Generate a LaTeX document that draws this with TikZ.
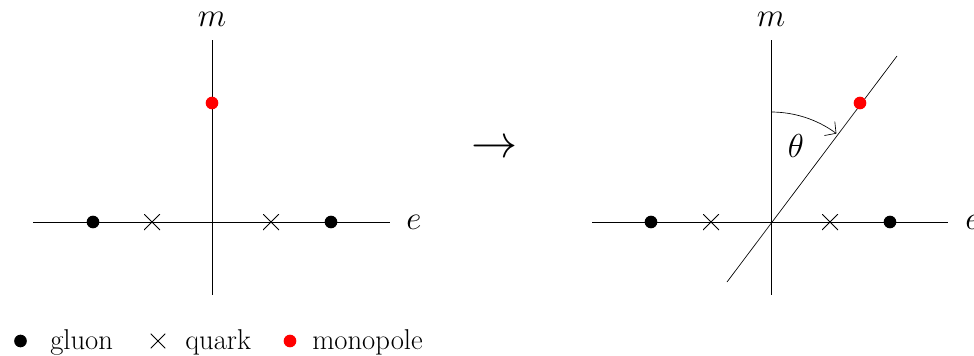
\documentclass[tikz,border=0pt]{standalone}
\usetikzlibrary{arrows.meta}
\begin{document}
\begin{tikzpicture}[x=0.75pt,y=-0.75pt,
  axis/.style={line width=0.5pt},
  gluondot/.style={circle,fill=black,inner sep=0pt,minimum size=9.5pt},
  monodot/.style={circle,fill=red,inner sep=0pt,minimum size=9.5pt},
  quarkx/.style={inner sep=0pt,minimum size=12pt,draw=none,path picture={
     \draw[line width=0.6pt] (path picture bounding box.north west) -- (path picture bounding box.south east)
       (path picture bounding box.south west) -- (path picture bounding box.north east);}},
  lab/.style={font=\fontsize{25}{30}\selectfont,inner sep=0pt},
  leg/.style={font=\fontsize{21.5}{25}\selectfont,anchor=base west,inner sep=0pt}]
\useasboundingbox (0,0) rectangle (974,355);
% left diagram
\coordinate (L1) at (33,222); \coordinate (L2) at (390,222);
\coordinate (Lt) at (212,40); \coordinate (Lb) at (212,295);
\draw[axis] (L1) -- (L2);
\draw[axis] (Lt) -- (Lb);
\node[lab,anchor=base] (ml) at (212,26.5) {$m$};
\node[lab,anchor=base] (el) at (414,229.5) {$e$};
\node[gluondot] (g1) at (93,222) {};
\node[gluondot] (g2) at (331,222) {};
\node[quarkx] (q1) at (152,222) {};
\node[quarkx] (q2) at (271,222) {};
\node[monodot] (mp1) at (212,103) {};
% arrow
\node[font=\fontsize{24.88}{30}\selectfont,inner sep=0pt,scale=1.39] (arr) at (495,149) {$\rightarrow$};
% right diagram
\coordinate (R1) at (592,222); \coordinate (R2) at (948,222);
\coordinate (Rt) at (771,40); \coordinate (Rb) at (771,295);
\coordinate (O) at (771,222);
\coordinate (T1) at (727,282); \coordinate (T2) at (897,56);
\draw[axis] (R1) -- (R2);
\draw[axis] (Rt) -- (Rb);
\draw[axis] (T1) -- (T2);
\node[lab,anchor=base] (mr) at (771,26.5) {$m$};
\node[lab,anchor=base] (er) at (973,229.5) {$e$};
\node[gluondot] (g3) at (651,222) {};
\node[gluondot] (g4) at (890,222) {};
\node[quarkx] (q3) at (711,222) {};
\node[quarkx] (q4) at (830,222) {};
\node[monodot] (mp2) at (860,103) {};
\coordinate (A1) at (771,112);
\draw[axis,-{Straight Barb[length=6pt,width=13pt,line width=0.5pt]}] (A1) arc[start angle=90,end angle=53.5,radius=82.5pt];
\node[lab] (th) at (796,146) {$\theta$};
% legend
\node[gluondot] (lg) at (20.5,341) {};
\node[leg] (lgt) at (50,349) {gluon};
\node[quarkx,minimum size=11pt] (lq) at (158,341) {};
\node[leg] (lqt) at (185,349) {quark};
\node[monodot] (lm) at (290,341) {};
\node[leg] (lmt) at (312,349) {monopole};
\end{tikzpicture}
\end{document}
